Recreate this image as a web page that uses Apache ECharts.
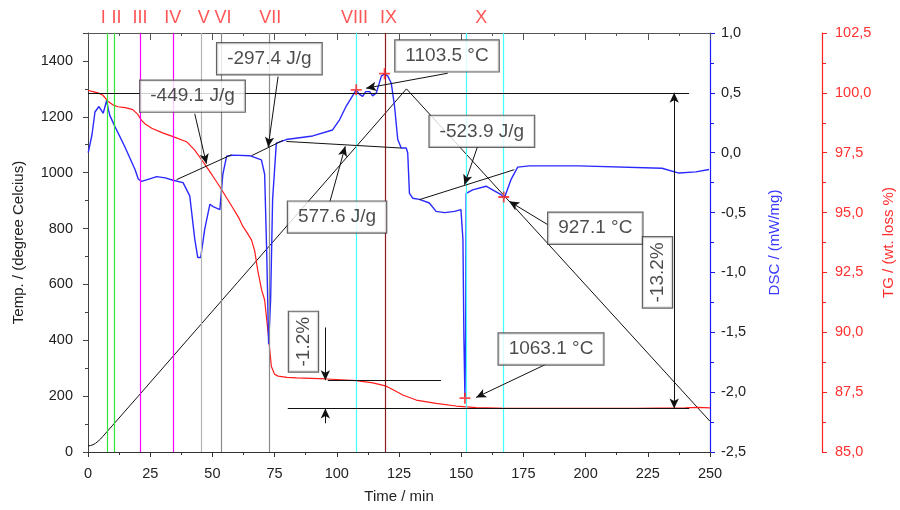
<!DOCTYPE html>
<html>
<head>
<meta charset="utf-8">
<script src="https://cdn.jsdelivr.net/npm/echarts@6/dist/echarts.min.js"></script>
<style>
  html, body { margin: 0; padding: 0; background: #fff; }
  #chart { width: 900px; height: 510px; }
</style>
</head>
<body>
<div id="chart"></div>
<script>
const FONT = '"Liberation Sans", Arial, sans-serif';

// Temperature programme (left axis, °C)
const tempTime  = [0, 1, 2, 3, 4, 5, 6, 20, 40, 60, 80, 100, 120, 128, 150, 175, 200, 225, 250];
const tempValue = [22, 23, 26, 31, 38, 46, 56, 198, 402, 606, 810, 1014, 1218, 1300, 1086, 842, 598, 354, 110];

// DSC signal (mW/mg)
const dscTime = [0.1, 1.6, 2.8, 4.4, 6.1, 7.5, 8.2, 8.8, 10.8, 14.8, 18.9, 20.2, 21.5, 24.5, 27.6, 31, 34.2, 38.2,
  40.9, 42.9, 44.1, 45.3, 46.9, 49.0, 50.3, 53.0, 54.2, 55.7, 58.3, 65.0, 69.7, 71.0, 71.8, 72.6, 73.4, 74.2,
  75.7, 79.7, 90.3, 98.3, 101.1, 103.8, 107.8, 109, 110.4, 111.6, 113.2, 114.4, 115.9, 117.9, 119.2, 120.5,
  121.9, 123.2, 124.5, 125.9, 127.9, 128.5, 129.2, 130.5, 133.2, 137.2, 139.9, 143.3, 147.3, 149.9, 150.7,
  151.1, 151.5, 151.8, 152.0, 154.6, 160.0, 162.6, 166.0, 167.3, 170.0, 172.7, 177.4, 197.4, 230.7, 237.5,
  244.3, 249.6];
const dscValue = [0.0, 0.15, 0.34, 0.386, 0.33, 0.436, 0.36, 0.31, 0.22, 0.05, -0.14, -0.22, -0.24, -0.22, -0.20, -0.21, -0.23, -0.25,
  -0.36, -0.72, -0.875, -0.875, -0.64, -0.43, -0.45, -0.475, -0.18, -0.03, -0.02, -0.025, -0.06, -0.18, -0.81, -1.6, -1.23, -0.39,
  0.08, 0.11, 0.14, 0.19, 0.275, 0.39, 0.525, 0.49, 0.47, 0.51, 0.51, 0.475, 0.50, 0.64, 0.66, 0.64,
  0.58, 0.39, 0.11, 0.04, 0.04, 0.0, -0.34, -0.38, -0.39, -0.42, -0.49, -0.50, -0.49, -0.475, -0.725,
  -1.56, -2.04, -1.475, -0.34, -0.31, -0.28, -0.31, -0.35, -0.38, -0.225, -0.12, -0.11, -0.11, -0.13, -0.17,
  -0.16, -0.14];

// Thermogravimetry (wt. %)
const tgTime  = [0, 2, 4, 6, 8, 10, 12, 15, 18, 20, 21.5, 23, 25.6, 30, 34.2, 39.6, 42.9, 45, 47.6, 50, 53, 55.5,
  58.3, 60.5, 62.3, 64, 65.7, 67, 68.2, 69.8, 71.0, 72.4, 73.7, 75, 76.4, 80, 83.8, 95.8, 107.8, 114.5, 119.9,
  123, 126.5, 131.9, 139.9, 147.9, 156, 168, 185, 200, 220, 240, 245, 250];
const tgValue = [100.1, 100.05, 100.0, 99.9, 99.65, 99.5, 99.42, 99.38, 99.3, 99.1, 98.85, 98.7, 98.52, 98.33, 98.17,
  97.96, 97.61, 97.3, 96.92, 96.55, 96.08, 95.65, 95.18, 94.8, 94.41, 94.15, 93.86, 93.4, 92.6, 91.76, 91.35,
  89.97, 88.57, 88.25, 88.17, 88.12, 88.1, 88.05, 87.98, 87.89, 87.75, 87.58, 87.38, 87.17, 87.03, 86.92,
  86.85, 86.82, 86.82, 86.82, 86.82, 86.84, 86.86, 86.84];

// Stage markers
const eventTimes  = [7.7, 10.4, 21.0, 34.4, 45.6, 53.5, 72.8, 107.8, 119.5, 152.0, 167.1];
const eventColors = ['#33e633', '#33e633', '#ff00ff', '#ff00ff', '#b4b4b4', '#8c8c8c', '#8c8c8c',
  '#44ffff', '#8b1a1a', '#44ffff', '#44ffff'];
const eventOnTop  = [false, false, false, false, false, false, true, false, false, false, false];
const romanLabels = ['I', 'II', 'III', 'IV', 'V', 'VI', 'VII', 'VIII', 'IX', 'X'];
const romanTimes  = [6.1, 11.5, 20.9, 34.1, 46.5, 54.3, 73.3, 107.1, 120.8, 158.1];

// Peak / enthalpy boxes (placed on the temperature scale)
const boxText   = ['-449.1 J/g', '-297.4 J/g', '577.6 J/g', '1103.5 °C', '-523.9 J/g', '927.1 °C', '1063.1 °C', '-1.2%', '-13.2%'];
const boxTime   = [42.0, 72.9, 100.1, 144.3, 158.3, 203.9, 186.1, 86.6, 228.9];
const boxTemp   = [1274, 1408, 841, 1418, 1148, 801, 369, 395, 643];
const boxRotate = [0, 0, 0, 0, 0, 0, 0, 90, 90];

// DSC baselines and pointers (time, mW/mg)
const dscBaselines = [
  [[35.6, -0.225], [57.7, -0.017]],
  [[65.7, -0.025], [78.4, 0.103]],
  [[79.7, 0.094], [125.9, 0.039]],
  [[133.2, -0.392], [171.3, -0.142]]
];
const dscPointers = [
  [[42.9, 0.325], [47.6, -0.092]],
  [[76.4, 0.636], [72.4, 0.048]],
  [[97.1, -0.419], [103.4, 0.053]],
  [[144.6, 0.664], [111.8, 0.539]],
  [[156.6, 0.053], [151.3, -0.267]],
  [[184.7, -0.6], [169.3, -0.406]],
  [[184.1, -1.767], [156.0, -2.044]]
];
const peakTime  = [107.8, 119.2, 167.1, 151.5];
const peakValue = [0.525, 0.66, -0.37, -2.05];

// Mass-loss levels and step arrows (time, wt. %)
const tgLevels = [
  [[0, 100], [241.6, 100]],
  [[80.3, 86.82], [241.6, 86.82]],
  [[96.4, 88.0], [141.9, 88.0]]
];
const tgPointers = [
  [[95.4, 90.2], [95.4, 88.0]],
  [[95.4, 86.2], [95.4, 86.82]]
];
const tgSpan = [[235.6, 100], [235.6, 86.82]];

const zip = (a, b) => a.map((v, i) => [v, b[i]]);
const comma = d => v => v.toFixed(d).replace('.', ',');
const black = { color: '#111', width: 1, type: 'solid' };
const ARROW = [7, 10];

function segment(p, q, endSym, startSym) {
  return [
    { coord: p, symbol: startSym || 'none', symbolSize: ARROW },
    { coord: q, symbol: endSym || 'none', symbolSize: ARROW }
  ];
}

function stageLines(onTop) {
  return eventTimes
    .map((t, i) => ({ xAxis: t, lineStyle: { color: eventColors[i], width: 1.2, type: 'solid' }, top: eventOnTop[i] }))
    .filter(d => d.top === onTop)
    .map(d => ({ xAxis: d.xAxis, lineStyle: d.lineStyle }));
}

const tickLabel = { fontFamily: FONT, fontSize: 14.5, color: '#222' };

const option = {
  animation: false,
  backgroundColor: '#fff',
  grid: { left: 88, right: 190, top: 33, bottom: 58, containLabel: false, outerBoundsMode: 'none' },
  xAxis: [
    {
      type: 'value', min: 0, max: 250, interval: 25, position: 'bottom',
      name: 'Time / min', nameLocation: 'middle', nameGap: 37, nameMoveOverlap: false,
      nameTextStyle: { fontFamily: FONT, fontSize: 15, color: '#222' },
      axisLine: { onZero: false, lineStyle: { color: '#333', width: 1 } },
      axisTick: { inside: false, length: 5, lineStyle: { color: '#333' } },
      minorTick: { show: true, splitNumber: 2, length: 3, lineStyle: { color: '#333' } },
      axisLabel: Object.assign({ margin: 14 }, tickLabel),
      splitLine: { show: false }
    },
    {
      type: 'value', min: 0, max: 250, interval: 25, position: 'top',
      axisLine: { onZero: false, lineStyle: { color: '#555', width: 1 } },
      axisTick: { inside: true, length: 7, lineStyle: { color: '#555' } },
      minorTick: { show: true, splitNumber: 2, length: 3, lineStyle: { color: '#555' } },
      axisLabel: { show: false },
      splitLine: { show: false }
    }
  ],
  yAxis: [
    {
      type: 'value', min: 0, max: 1500, interval: 200, position: 'left',
      name: 'Temp. / (degree Celcius)', nameLocation: 'middle', nameRotate: 90, nameGap: 62, nameMoveOverlap: false,
      nameTextStyle: { fontFamily: FONT, fontSize: 15, color: '#222' },
      axisLine: { show: true, onZero: false, lineStyle: { color: '#444' } },
      axisTick: { show: true, length: 5, lineStyle: { color: '#444' } },
      minorTick: { show: true, splitNumber: 2, length: 3, lineStyle: { color: '#444' } },
      axisLabel: Object.assign({ margin: 15, showMaxLabel: false, formatter: v => String(v) }, tickLabel),
      splitLine: { show: false }
    },
    {
      type: 'value', min: -2.5, max: 1.0, interval: 0.5, position: 'right', offset: 0,
      name: 'DSC / (mW/mg)', nameLocation: 'middle', nameRotate: 90, nameGap: 57, nameMoveOverlap: false,
      nameTextStyle: { fontFamily: FONT, fontSize: 15, color: '#3b3bff' },
      axisLine: { show: true, onZero: false, lineStyle: { color: '#1a1aff', width: 1.2 } },
      axisTick: { show: true, length: 5, lineStyle: { color: '#1a1aff' } },
      minorTick: { show: true, splitNumber: 2, length: 4, lineStyle: { color: '#1a1aff' } },
      axisLabel: Object.assign({ margin: 11, formatter: comma(1) }, tickLabel),
      splitLine: { show: false }
    },
    {
      type: 'value', min: 85, max: 102.5, interval: 2.5, position: 'right', offset: 112,
      name: 'TG / (wt. loss %)', nameLocation: 'middle', nameRotate: 90, nameGap: 59, nameMoveOverlap: false,
      nameTextStyle: { fontFamily: FONT, fontSize: 15, color: '#ff3030' },
      axisLine: { show: true, onZero: false, lineStyle: { color: '#ff2020', width: 1.2 } },
      axisTick: { show: true, length: 5, lineStyle: { color: '#ff2020' } },
      minorTick: { show: true, splitNumber: 2, length: 4, lineStyle: { color: '#ff2020' } },
      axisLabel: { margin: 13, formatter: comma(1), fontFamily: FONT, fontSize: 14.5, color: '#ff3030' },
      splitLine: { show: false }
    }
  ],
  series: [
    {
      // stage marker verticals
      name: 'stages', type: 'line', xAxisIndex: 0, yAxisIndex: 0, data: [], z: 1, silent: true,
      markLine: {
        silent: true, animation: false, symbol: ['none', 'none'], label: { show: false },
        data: stageLines(false)
      }
    },
    {
      name: 'stages over boxes', type: 'line', xAxisIndex: 0, yAxisIndex: 0, data: [], z: 11, silent: true,
      markLine: {
        silent: true, animation: false, symbol: ['none', 'none'], label: { show: false },
        data: stageLines(true)
      }
    },
    {
      name: 'Temp.', type: 'line', yAxisIndex: 0, data: zip(tempTime, tempValue), z: 3,
      showSymbol: false, lineStyle: { color: '#111', width: 1 }, silent: true
    },
    {
      name: 'TG', type: 'line', yAxisIndex: 2, data: zip(tgTime, tgValue), z: 3,
      showSymbol: false, lineStyle: { color: '#ff1a1a', width: 1.2 }, silent: true,
      markLine: {
        silent: true, animation: false, label: { show: false }, lineStyle: black,
        data: tgLevels.map(s => segment(s[0], s[1]))
          .concat(tgPointers.map(s => segment(s[0], s[1], 'arrow')))
          .concat([segment(tgSpan[0], tgSpan[1], 'arrow', 'arrow')])
      }
    },
    {
      name: 'DSC', type: 'line', yAxisIndex: 1, data: zip(dscTime, dscValue), z: 4,
      showSymbol: false, lineStyle: { color: '#2a2aff', width: 1.4 }, silent: true,
      markLine: {
        silent: true, animation: false, label: { show: false }, lineStyle: black,
        data: dscBaselines.map(s => segment(s[0], s[1]))
          .concat(dscPointers.map(s => segment(s[0], s[1], 'arrow')))
      }
    },
    {
      name: 'peaks', type: 'scatter', yAxisIndex: 1, data: zip(peakTime, peakValue), z: 6,
      symbol: 'path://M5,0H7V5H12V7H7V12H5V7H0V5H5Z', symbolSize: 11,
      itemStyle: { color: '#ff2020' }, silent: true
    },
    {
      name: 'boxes', type: 'scatter', yAxisIndex: 0, z: 10, symbolSize: 0, clip: false, silent: true,
      data: boxText.map((s, i) => ({
        value: [boxTime[i], boxTemp[i]],
        label: { formatter: s, rotate: boxRotate[i], padding: boxRotate[i] ? [4, 5, 3, 5] : [5, 10, 4, 10] }
      })),
      label: {
        show: true, position: 'inside', fontFamily: FONT, fontSize: 19, lineHeight: 22, color: '#1e1e1e',
        backgroundColor: '#fff', borderColor: '#3c3c3c', borderWidth: 1.2
      }
    },
    {
      name: 'stage labels', type: 'scatter', yAxisIndex: 0, z: 10, symbolSize: 0, clip: false, silent: true,
      data: romanTimes.map((t, i) => ({ value: [t, 1500], label: { formatter: romanLabels[i] } })),
      label: { show: true, position: 'top', distance: 6, fontFamily: FONT, fontSize: 18, color: '#ff2a2a' }
    }
  ]
};

const chart = echarts.init(document.getElementById('chart'), null, { renderer: 'canvas' });
chart.setOption(option);
</script>
</body>
</html>
